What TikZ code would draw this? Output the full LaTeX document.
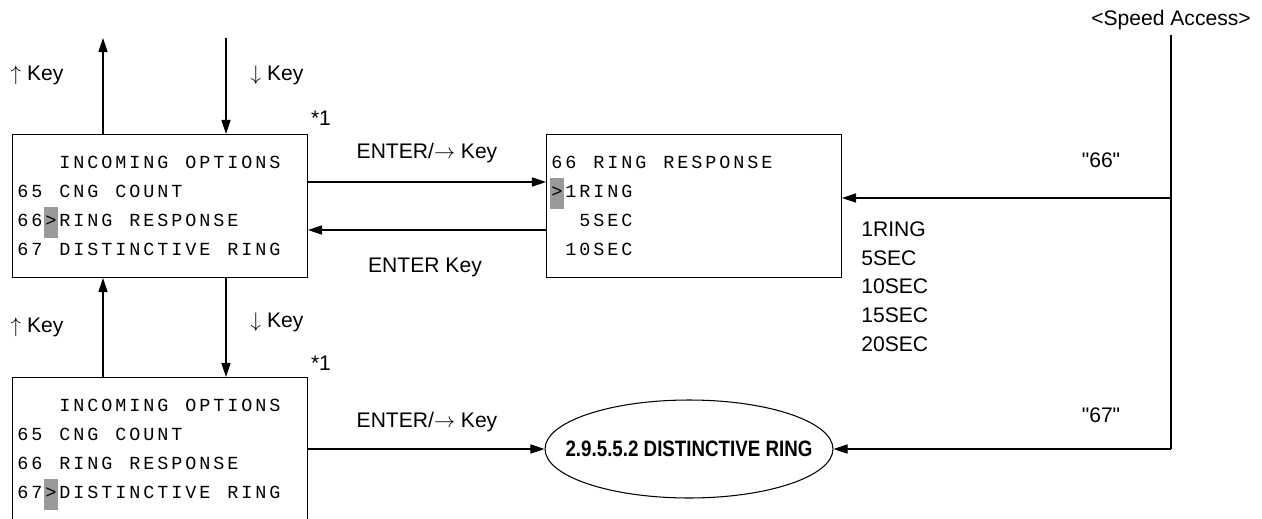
\documentclass[tikz,border=0pt]{standalone}
\usepackage{fontspec}
\setmainfont{Liberation Sans}
\newfontfamily\plainsans{Liberation Sans}
\newfontfamily\lcdmono{Liberation Mono}
\newfontfamily\narrowsans{Liberation Sans}[FakeStretch=0.84]
\usetikzlibrary{positioning,arrows.meta,shapes.geometric}
\definecolor{curgray}{HTML}{9A9A9A}
\newcommand\lcd[1]{\lcdloop#1\relax}
\def\lcdloop#1{\ifx\relax#1\else\makebox[0.28cm]{#1}\expandafter\lcdloop\fi}
\newcommand\cur{\smash{\setlength{\fboxsep}{0pt}\colorbox{curgray}{\makebox[0.28cm]{\rule[-6.3pt]{0pt}{17.7pt}>}}}}

\begin{document}
\begin{tikzpicture}[x=0.02cm, y=-0.02cm,
  screen/.style={draw, line width=0.6pt, anchor=north west, align=left, text width=5.76cm, inner xsep=0.07cm, inner ysep=0pt, minimum height=2.86cm, font=\lcdmono\fontsize{10.5pt}{16.5pt}\selectfont},
  lbl/.style={inner sep=0pt, font=\fontsize{12pt}{16.3pt}\selectfont},
  arr/.style={line width=0.6pt, -{Triangle[length=8pt,width=5.2pt]}},
  dest/.style={draw, ellipse, line width=0.6pt, minimum width=5.76cm, minimum height=1.96cm, inner sep=0pt, font=\narrowsans\bfseries\fontsize{12.7pt}{15pt}\selectfont}
]
\useasboundingbox (0,0) rectangle (1262,518);

\node[screen] (incA) at (12,134) {\lcd{~~~INCOMING~OPTIONS}\\ \lcd{65~CNG~COUNT}\\ \lcd{66}\cur\lcd{RING~RESPONSE}\\ \lcd{67~DISTINCTIVE~RING}};
\node[screen] (rr) at (546,134) {\lcd{66~RING~RESPONSE}\\ \cur\lcd{1RING}\\ \lcd{~~5SEC}\\ \lcd{~10SEC}};
\node[screen] (incB) at (12,377) {\lcd{~~~INCOMING~OPTIONS}\\ \lcd{65~CNG~COUNT}\\ \lcd{66~RING~RESPONSE}\\ \lcd{67}\cur\lcd{DISTINCTIVE~RING}};
\node[dest] (dr) at (689,449) {\makebox[0pt]{2.9.5.5.2 DISTINCTIVE RING}};

\coordinate (upT) at (103,38);
\coordinate (dnT) at (226,38);
\coordinate (fw) at (0,182);
\coordinate (bk) at (0,230);
\coordinate (saT) at (1171,35);
\coordinate (sa66) at (1171,198);
\coordinate (sa67) at (1171,449);

\draw[arr] (incA.north -| upT) -- (upT);
\draw[arr] (dnT) -- (incA.north -| dnT);
\draw[arr] (incB.north -| upT) -- (incA.south -| upT);
\draw[arr] (incA.south -| dnT) -- (incB.north -| dnT);
\draw[arr] (incA.east |- fw) -- (rr.west |- fw);
\draw[arr] (rr.west |- bk) -- (incA.east |- bk);
\draw[arr] (incB.east |- dr) -- (dr.west);
\draw[line width=0.6pt] (saT) -- (sa67);
\draw[arr] (sa66) -- (rr.east |- sa66);
\draw[arr] (sa67) -- (dr.east);

\node[lbl] (upKeyA) at (37,75) {$\uparrow$ Key};
\node[lbl] (dnKeyA) at (277,75) {$\downarrow$ Key};
\node[lbl] (noteA) at (321,118) {*1};
\node[lbl] (upKeyB) at (37,327) {$\uparrow$ Key};
\node[lbl] (dnKeyB) at (277,322) {$\downarrow$ Key};
\node[lbl] (noteB) at (321,363) {*1};
\node[lbl] (enterA) at (427,153) {ENTER/$\rightarrow$ Key};
\node[lbl] (enterBk) at (425,267) {ENTER Key};
\node[lbl] (enterB) at (427,422) {ENTER/$\rightarrow$ Key};
\node[lbl] (speed) at (1171,20) {<Speed Access>};
\node[lbl] (code66) at (1101,160) {\plainsans"66"};
\node[lbl] (code67) at (1101,415) {\plainsans"67"};
\node[lbl, align=left, anchor=west] (opts) at (861,286.5) {1RING\\5SEC\\10SEC\\15SEC\\20SEC};
\end{tikzpicture}
\end{document}
